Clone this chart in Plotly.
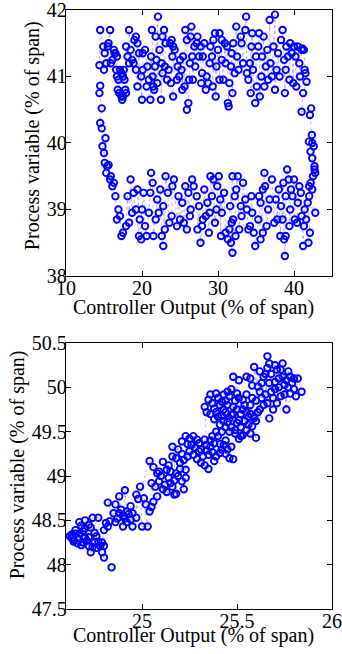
import plotly.graph_objects as go

# ---------------- Top panel: limit cycle (x, y) pairs in time order ----------------
top_upper_band = [
    (14.4, 41.17), (14.5, 41.7), (14.9, 41.45), (15.1, 41.35), (15.0, 41.1), (15.3, 41.2),
    (15.5, 41.45), (15.6, 41.5), (15.8, 41.7), (15.9, 41.2), (16.1, 41.25), (16.3, 41.4),
    (16.4, 41.35), (16.6, 41.1), (16.5, 41.35), (16.7, 41.3), (16.7, 41.0), (16.9, 40.95),
    (16.8, 40.8), (17.0, 40.75), (17.1, 41.1), (17.3, 41.05), (17.3, 40.7), (17.5, 40.7),
    (17.4, 40.65), (17.5, 41.0), (17.6, 41.1), (17.7, 40.95), (17.8, 40.8), (17.9, 40.75),
    (17.9, 41.45), (18.1, 41.3), (18.3, 41.2), (18.3, 41.7), (18.5, 41.4), (18.7, 41.25),
    (18.9, 41.2), (19.0, 41.55), (19.2, 41.6), (19.4, 41.5), (19.2, 41.1), (19.4, 40.85),
    (19.6, 41.35), (20.0, 40.65), (19.9, 41.0), (20.1, 41.1), (20.1, 41.35), (20.4, 41.4),
    (20.7, 41.15), (20.9, 40.95), (20.6, 40.85), (21.1, 40.65), (21.2, 41.3), (21.4, 41.0),
    (21.5, 40.85), (21.7, 41.15), (21.6, 40.8), (21.3, 41.7), (21.8, 41.6), (21.9, 41.25),
    (22.1, 41.9), (22.0, 40.9), (22.3, 41.4), (22.6, 41.2), (22.5, 40.65), (22.7, 41.05),
    (22.9, 41.7), (22.7, 41.6), (23.1, 41.5), (23.0, 41.15), (23.3, 40.95), (23.5, 41.1),
    (23.7, 41.5), (23.9, 41.55), (24.1, 41.45), (23.8, 40.9), (24.1, 40.7), (24.3, 41.4),
    (24.0, 41.3), (24.6, 40.95), (24.7, 41.15), (24.9, 41.0), (25.0, 41.25), (25.2, 41.1),
    (25.3, 40.8), (25.4, 41.3), (25.6, 40.85), (25.7, 41.7), (25.9, 41.55), (25.9, 40.5),
    (26.1, 40.6), (26.2, 40.95), (26.3, 41.2), (26.4, 41.6), (26.5, 41.75), (26.6, 41.3),
    (26.7, 40.95), (26.9, 41.45), (27.0, 41.15), (27.2, 41.5), (27.3, 41.6), (27.5, 41.3),
    (27.7, 41.45), (27.8, 40.9), (27.9, 41.05), (28.0, 41.3), (28.2, 41.5), (28.4, 40.8),
    (28.5, 41.0), (28.7, 40.9), (28.9, 41.2), (29.0, 41.45), (29.2, 41.3), (29.4, 41.55),
    (29.3, 40.85), (29.6, 41.65), (29.7, 40.7), (29.8, 41.15), (30.0, 41.4), (30.2, 40.95),
    (30.2, 41.65), (30.5, 41.55), (30.5, 41.25), (30.7, 40.95), (30.9, 41.5), (31.0, 41.2),
    (31.2, 41.45), (31.4, 40.55), (31.3, 40.6), (31.5, 40.9), (31.7, 41.15), (31.8, 41.35),
    (31.9, 40.75), (32.0, 41.5), (32.2, 41.05), (32.4, 41.75), (32.5, 41.3), (32.7, 41.1),
    (33.0, 41.6), (33.1, 41.5), (33.3, 41.2), (33.6, 41.7), (33.7, 41.9), (33.8, 41.05),
    (34.0, 40.95), (34.2, 41.2), (34.4, 41.45), (34.3, 40.75), (34.5, 41.65), (34.6, 41.1),
    (34.9, 40.6), (35.1, 40.85), (35.0, 41.3), (35.3, 41.45), (35.4, 41.65), (35.5, 40.7),
    (35.7, 41.0), (35.8, 41.3), (36.0, 41.6), (36.1, 40.85), (36.3, 41.15), (36.5, 41.4),
    (36.6, 40.95), (36.8, 41.85), (36.9, 41.2), (37.1, 41.0), (37.3, 41.45), (37.5, 41.93),
    (37.5, 40.8), (37.7, 41.1), (37.9, 41.35), (38.1, 41.0), (38.3, 41.55), (38.5, 41.7),
    (38.7, 41.25), (38.8, 40.75), (38.9, 41.1), (39.0, 41.45), (39.2, 41.3), (39.4, 40.95),
    (39.5, 41.5), (39.7, 41.35), (39.9, 40.9), (40.0, 41.45), (40.2, 41.3), (40.3, 40.85),
    (40.5, 41.45), (40.7, 41.2), (40.8, 41.0), (41.0, 41.4), (41.1, 41.42), (41.3, 41.4),
    (41.4, 41.1), (41.5, 41.05),
]

top_right_drop = [
    (41.65, 40.92), (41.2, 40.75), (41.0, 40.47), (42.26, 40.52), (42.1, 40.42),
    (42.35, 40.12), (41.96, 40.02), (42.4, 40.0), (42.6, 39.95), (42.17, 39.87),
    (42.4, 39.77), (42.7, 39.65), (42.8, 39.55),
]

top_lower_band = [
    (42.5, 39.5), (42.4, 39.3), (42.2, 39.4), (42.7, 39.6), (42.0, 39.35), (42.0, 39.2),
    (42.8, 38.95), (41.8, 39.1), (42.1, 38.65), (41.9, 38.5), (41.6, 38.85), (41.4, 39.0),
    (41.3, 38.75), (41.2, 38.45), (41.0, 38.9), (40.9, 39.25), (40.7, 39.35), (40.5, 39.1),
    (40.4, 38.8), (40.1, 38.85), (40.0, 39.45), (39.8, 39.2), (39.6, 39.3), (39.5, 39.0),
    (39.4, 38.75), (39.3, 39.45), (39.1, 39.6), (38.9, 39.2), (38.9, 38.6), (38.8, 38.3),
    (38.7, 38.55), (38.6, 39.4), (38.5, 38.85), (38.3, 39.05), (38.2, 38.6), (38.0, 39.3),
    (37.8, 38.85), (37.6, 39.15), (37.4, 38.8), (37.1, 39.45), (36.8, 39.15), (36.6, 39.0),
    (36.4, 38.75), (36.2, 39.35), (36.1, 39.55), (35.9, 39.3), (35.9, 38.65), (35.6, 39.1),
    (35.4, 39.2), (35.6, 38.55), (35.3, 38.85), (34.9, 38.45), (34.7, 38.65), (34.5, 38.95),
    (34.4, 39.2), (34.2, 38.75), (34.0, 38.7), (33.8, 39.0), (33.6, 39.15), (33.3, 39.4),
    (33.1, 38.9), (33.0, 39.05), (32.8, 38.7), (32.6, 39.5), (32.4, 39.3), (32.2, 39.2),
    (32.3, 38.6), (32.0, 38.85), (31.9, 38.35), (31.7, 38.5), (31.8, 38.8), (31.9, 39.5),
    (31.6, 39.05), (31.5, 38.7), (31.3, 38.55), (31.0, 38.65), (30.8, 39.25), (30.5, 38.95),
    (30.3, 39.15), (30.4, 38.6), (30.1, 39.5), (29.9, 39.35), (29.8, 39.0), (29.6, 38.8),
    (29.4, 39.45), (29.2, 39.2), (29.0, 39.5), (28.9, 38.95), (28.8, 38.65), (28.6, 39.1),
    (28.4, 38.9), (28.2, 39.3), (28.0, 38.85), (27.9, 38.75), (27.7, 38.5), (27.5, 39.05),
    (27.3, 38.7), (27.2, 39.2), (26.8, 39.35), (26.6, 39.45), (26.4, 39.0), (26.3, 38.9),
    (26.1, 39.25), (25.9, 38.7), (25.7, 39.35), (25.5, 38.8), (25.3, 39.1), (25.0, 38.85),
    (24.8, 39.2), (24.6, 38.75), (24.2, 39.45), (24.0, 39.35), (23.9, 38.9), (23.6, 38.8),
    (23.4, 39.25), (23.1, 39.5), (23.0, 38.7), (22.8, 39.05), (22.8, 38.45), (22.6, 38.6),
    (22.4, 39.3), (22.2, 38.95), (22.0, 39.15), (21.8, 38.85), (21.5, 38.6), (21.4, 39.4),
    (21.2, 39.55), (21.1, 39.25), (20.9, 38.95), (20.6, 38.6), (20.4, 38.75), (20.2, 39.25),
    (20.0, 39.0), (19.9, 38.55), (19.7, 38.85), (19.4, 39.3), (19.6, 38.6), (19.2, 39.0),
    (18.9, 39.25), (18.7, 38.95), (18.5, 39.45), (18.3, 38.8), (18.1, 39.2), (17.9, 38.75),
    (17.5, 38.65), (17.3, 38.6), (17.1, 38.9), (16.9, 39.0), (16.7, 38.85), (16.5, 39.2),
    (16.3, 39.4), (16.1, 39.35), (15.9, 39.5), (15.8, 39.45),
]

top_left_rise = [
    (15.6, 39.67), (15.3, 39.55), (15.4, 39.65), (15.1, 39.7), (15.2, 40.07), (15.0, 39.85),
    (14.8, 39.95), (14.7, 40.22), (14.5, 40.3), (14.7, 40.52), (14.4, 40.75), (14.5, 40.86),
]

# ---------------- Bottom panel: (x, y) pairs in time order ----------------
bot_low_cluster = [
    (24.84, 47.97), (24.80, 48.08), (24.79, 48.14), (24.76, 48.19), (24.73, 48.14),
    (24.72, 48.21), (24.69, 48.25), (24.70, 48.30), (24.66, 48.24), (24.64, 48.28),
    (24.62, 48.32), (24.63, 48.34), (24.65, 48.39), (24.67, 48.35), (24.67, 48.48),
    (24.70, 48.41), (24.72, 48.31), (24.75, 48.25), (24.76, 48.32), (24.78, 48.21),
    (24.80, 48.21), (24.79, 48.25), (24.80, 48.39), (24.81, 48.47), (24.77, 48.53),
    (24.74, 48.53), (24.72, 48.45), (24.69, 48.38), (24.66, 48.30), (24.64, 48.26),
    (24.68, 48.22), (24.71, 48.27), (24.74, 48.20), (24.77, 48.26), (24.75, 48.36),
    (24.73, 48.42), (24.70, 48.50), (24.68, 48.44), (24.65, 48.35), (24.63, 48.30),
]

bot_mid_low = [
    (24.82, 48.43), (24.83, 48.49), (24.86, 48.48), (24.82, 48.70), (24.86, 48.68),
    (24.88, 48.58), (24.88, 48.77), (24.90, 48.43), (24.91, 48.84), (24.92, 48.60),
    (24.94, 48.51), (24.94, 48.66), (24.95, 48.43), (24.97, 48.53), (24.97, 48.79),
    (24.99, 48.88), (25.00, 48.43), (25.03, 48.43), (25.01, 48.75), (25.04, 48.60),
    (25.05, 48.92), (25.06, 48.71), (25.08, 48.77), (24.90, 48.55), (24.92, 48.48),
    (24.89, 48.62), (24.93, 48.57), (24.91, 48.52), (24.95, 48.58), (24.87, 48.52),
    (24.85, 48.58), (25.02, 48.68), (25.05, 48.65), (24.98, 48.74), (25.04, 49.17),
]

bot_mid = [
    (25.06, 49.10), (25.08, 49.03), (25.09, 48.94), (25.11, 48.85), (25.11, 49.16),
    (25.13, 49.07), (25.14, 48.98), (25.16, 49.22), (25.16, 48.88), (25.17, 48.79),
    (25.18, 49.03), (25.20, 49.15), (25.21, 48.94), (25.22, 48.85), (25.23, 49.07),
    (25.24, 49.22), (25.16, 49.33), (25.19, 49.30), (25.21, 49.39), (25.10, 49.00),
    (25.12, 48.90), (25.14, 49.12), (25.15, 49.05), (25.17, 48.95), (25.19, 49.00),
    (25.20, 49.08), (25.22, 49.18), (25.18, 49.20), (25.15, 48.92), (25.13, 48.82),
    (25.18, 48.80), (25.07, 48.88), (25.09, 49.05), (25.21, 49.25), (25.23, 48.98),
]

bot_mid_high = [
    (25.23, 49.45), (25.26, 49.35), (25.27, 49.24), (25.29, 49.41), (25.31, 49.15),
    (25.31, 49.30), (25.33, 49.41), (25.35, 49.24), (25.36, 49.33), (25.38, 49.17),
    (25.38, 49.37), (25.40, 49.45), (25.41, 49.26), (25.43, 49.35), (25.45, 49.30),
    (25.46, 49.20), (25.48, 49.19), (25.39, 49.50), (25.25, 49.42), (25.28, 49.32),
    (25.30, 49.37), (25.32, 49.22), (25.34, 49.29), (25.36, 49.40), (25.37, 49.27),
    (25.39, 49.22), (25.42, 49.30), (25.44, 49.40), (25.33, 49.12), (25.35, 49.08),
    (25.30, 49.28), (25.27, 49.45), (25.25, 49.28), (25.24, 49.36), (25.29, 49.19),
    (25.41, 49.36), (25.44, 49.25), (25.47, 49.33), (25.37, 49.45), (25.34, 49.35),
]

bot_dense = [
    (25.33, 49.78), (25.35, 49.86), (25.38, 49.76), (25.39, 49.93), (25.40, 49.67),
    (25.41, 49.58), (25.42, 49.84), (25.43, 49.75), (25.45, 49.61), (25.46, 49.90),
    (25.47, 49.69), (25.48, 49.78), (25.49, 49.52), (25.50, 49.93), (25.51, 49.63),
    (25.52, 49.45), (25.53, 49.75), (25.53, 49.86), (25.55, 49.52), (25.56, 49.67),
    (25.57, 49.80), (25.58, 49.56), (25.60, 49.43), (25.48, 50.12), (25.51, 50.08),
    (25.55, 50.12), (25.36, 49.70), (25.37, 49.82), (25.39, 49.72), (25.41, 49.80),
    (25.42, 49.68), (25.44, 49.85), (25.44, 49.72), (25.45, 49.80), (25.46, 49.65),
    (25.47, 49.55), (25.48, 49.70), (25.49, 49.85), (25.50, 49.75), (25.50, 49.60),
    (25.51, 49.88), (25.52, 49.70), (25.52, 49.55), (25.54, 49.80), (25.54, 49.62),
    (25.55, 49.92), (25.56, 49.58), (25.57, 49.70), (25.58, 49.88), (25.59, 49.65),
    (25.43, 49.92), (25.45, 49.95), (25.47, 49.98), (25.49, 49.48), (25.51, 49.42),
    (25.46, 49.50), (25.43, 49.62), (25.40, 49.88), (25.38, 49.64), (25.42, 49.50),
    (25.53, 49.46), (25.57, 49.48), (25.55, 49.72), (25.44, 49.55), (25.36, 49.92),
    (25.34, 49.72), (25.60, 49.62), (25.61, 49.72),
]

bot_high = [
    (25.59, 50.23), (25.61, 50.01), (25.63, 49.88), (25.64, 50.12), (25.66, 50.35),
    (25.67, 50.27), (25.68, 49.95), (25.69, 49.75), (25.70, 50.06), (25.71, 50.20),
    (25.73, 49.90), (25.74, 50.27), (25.75, 50.03), (25.76, 49.75), (25.77, 50.18),
    (25.78, 49.93), (25.80, 50.10), (25.81, 49.90), (25.82, 50.10), (25.84, 49.95),
    (25.67, 49.65), (25.59, 49.67), (25.62, 49.75), (25.60, 49.85), (25.62, 49.95),
    (25.63, 50.05), (25.65, 49.92), (25.65, 50.15), (25.66, 49.82), (25.67, 50.05),
    (25.68, 50.15), (25.69, 49.88), (25.70, 49.98), (25.71, 49.82), (25.72, 50.10),
    (25.72, 50.00), (25.73, 50.20), (25.74, 50.12), (25.75, 49.92), (25.76, 50.08),
    (25.77, 50.00), (25.78, 50.12), (25.79, 50.05), (25.80, 49.98), (25.64, 49.80),
    (25.66, 50.22), (25.70, 50.25), (25.58, 50.02), (25.57, 50.10), (25.62, 50.18),
]

x_title = "Controller Output (% of span)"
y_title = "Process variable (% of span)"

top_pts = top_upper_band + top_right_drop + top_lower_band + top_left_rise
bot_pts = bot_low_cluster + bot_mid_low + bot_mid + bot_mid_high + bot_dense + bot_high

FONT = "Liberation Serif, Times New Roman, serif"
BLUE = "#0000ff"

def trace(pts, xa, ya):
    return go.Scatter(
        x=[p[0] for p in pts], y=[p[1] for p in pts],
        xaxis=xa, yaxis=ya, mode="lines+markers",
        line=dict(color="rgba(90,90,255,0.45)", width=1, dash="dot"),
        marker=dict(symbol="circle-open", size=6.5, color=BLUE, line=dict(width=1.9, color=BLUE)),
        showlegend=False, hoverinfo="skip",
    )

fig = go.Figure([trace(top_pts, "x", "y"), trace(bot_pts, "x2", "y2")])

axis_common = dict(
    showline=True, linecolor="black", linewidth=1.3, mirror="ticks",
    ticks="inside", ticklen=5, tickwidth=1, tickcolor="black",
    showgrid=False, zeroline=False, automargin=False, ticklabeloverflow="allow",
    tickfont=dict(family=FONT, size=20, color="black"),
)
x_common = dict(axis_common, ticklabelstandoff=-6)
y_common = dict(axis_common, ticklabelstandoff=-6)

fig.update_layout(
    width=342, height=654,
    margin=dict(l=66, r=10, t=10, b=45, autoexpand=False),
    paper_bgcolor="white", plot_bgcolor="white",
    xaxis=dict(domain=[0, 1], anchor="y", range=[10, 45], tickvals=[10, 20, 30, 40], **x_common),
    yaxis=dict(domain=[0.556, 1], anchor="x", range=[38, 42], tickvals=[38, 39, 40, 41, 42], **y_common),
    xaxis2=dict(domain=[0, 1], anchor="y2", range=[24.6, 26], tickvals=[25, 25.5, 26],
                ticktext=["25", "25.5", "26"], **x_common),
    yaxis2=dict(domain=[0, 0.444], anchor="x2", range=[47.5, 50.5],
                tickvals=[47.5, 48, 48.5, 49, 49.5, 50, 50.5],
                ticktext=["47.5", "48", "48.5", "49", "49.5", "50", "50.5"], **y_common),
)

title_font = dict(family=FONT, size=20, color="black")
annots = [
    dict(text=x_title, x=0.48, y=0.504, xref="paper", yref="paper",
         xanchor="center", yanchor="middle", showarrow=False, font=title_font),
    dict(text=x_title, x=0.48, y=-0.0435, xref="paper", yref="paper",
         xanchor="center", yanchor="middle", showarrow=False, font=title_font),
    dict(text=y_title, x=-0.128, y=0.791, xref="paper", yref="paper", textangle=-90,
         xanchor="center", yanchor="middle", showarrow=False, font=title_font),
    dict(text=y_title, x=-0.184, y=0.240, xref="paper", yref="paper", textangle=-90,
         xanchor="center", yanchor="middle", showarrow=False, font=title_font),
]
fig.update_layout(annotations=annots)

fig.write_html("out.html", config={"displayModeBar": False},
               post_script="document.body.style.margin='0';")
